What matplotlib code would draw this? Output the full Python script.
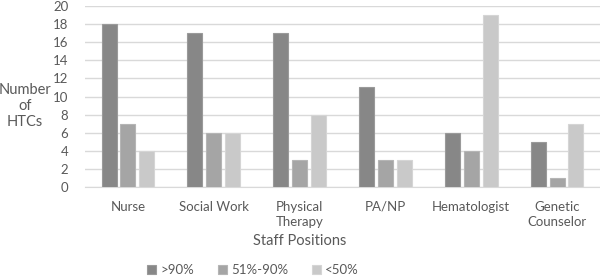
import matplotlib
matplotlib.use("Agg")
import matplotlib.pyplot as plt
import numpy as np

categories = ["Nurse", "Social Work", "Physical\nTherapy", "PA/NP", "Hematologist", "Genetic\nCounselor"]
series_names = [">90%", "51%-90%", "<50%"]
s_gt90 = [18, 17, 17, 11, 6, 5]
s_51_90 = [7, 6, 3, 3, 4, 1]
s_lt50 = [4, 6, 8, 3, 19, 7]
yticks = list(range(0, 21, 2))

colors = ["#878787", "#a5a5a5", "#c9c9c9"]
edges = ["#9a9a9a", "#b5b5b5", "#d5d5d5"]
txt = "#595959"
plt.rcParams['font.family'] = ['Lato', 'DejaVu Sans']

fig = plt.figure(figsize=(6, 2.78), dpi=100)
ax = fig.add_axes([85/600, 1-187/278, 515/600, 181/278])

x = np.arange(len(categories))
w = 0.175
step = 0.22
for i, (vals, name) in enumerate(zip([s_gt90, s_51_90, s_lt50], series_names)):
    ax.bar(x + (i-1)*step, vals, width=w, color=colors[i], edgecolor=edges[i], linewidth=0.8, label=name, zorder=3)

ax.set_xlim(-0.5, len(categories)-0.5)
ax.set_ylim(0, 20)
ax.set_yticks(yticks)
ax.yaxis.grid(True, color="#d9d9d9", linewidth=1, zorder=0)
for s in ["top", "right", "left"]:
    ax.spines[s].set_visible(False)
ax.spines["bottom"].set_color("#d9d9d9")
ax.tick_params(axis="both", length=0, labelsize=9.5, colors=txt)
ax.tick_params(axis="x", pad=10)
ax.set_xticks(x)
ax.set_xticklabels(categories, linespacing=1.3)
ax.tick_params(axis="y", pad=12)

fig.text(25/600, 1-106/278, "Number\nof\nHTCs", ha="center", va="center", fontsize=10.5, color=txt, linespacing=1.2)
fig.text(300/600, 1-241/278, "Staff Positions", ha="center", va="center", fontsize=10.5, color=txt)

handles, labels = ax.get_legend_handles_labels()
fig.legend(handles, labels, loc="center", bbox_to_anchor=(253/600, 1-270/278), ncol=3, frameon=False,
           fontsize=9.5, labelcolor=txt, handlelength=0.7, handleheight=0.7, handletextpad=0.3, columnspacing=1.8,
           borderpad=0)

fig.savefig("out.png", dpi=100)
